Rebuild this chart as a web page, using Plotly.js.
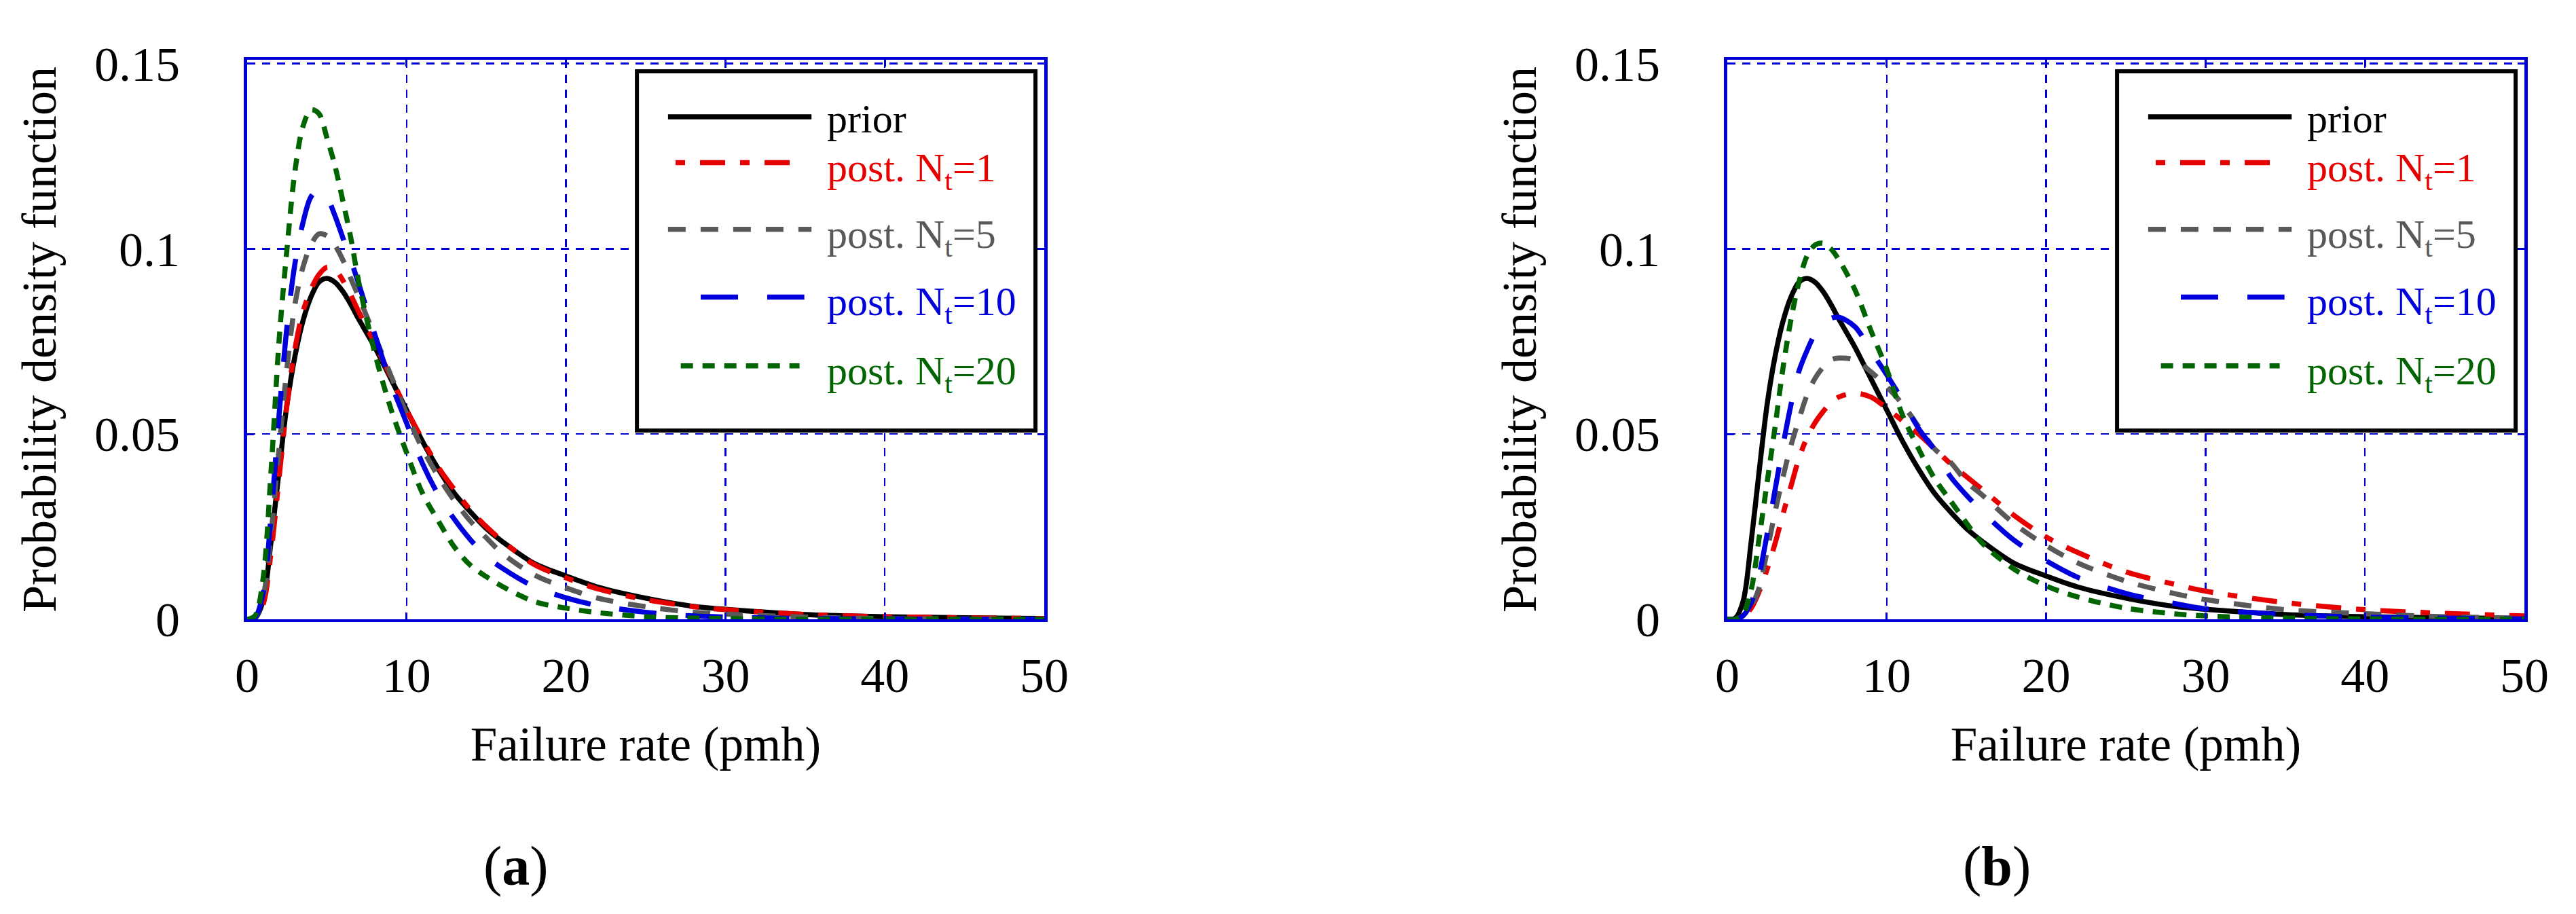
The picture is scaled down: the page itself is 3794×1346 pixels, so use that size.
<!DOCTYPE html>
<html>
<head>
<meta charset="utf-8">
<script src="https://cdn.plot.ly/plotly-3.0.1.min.js"></script>
<style>html, body {margin:0; padding:0; background:#fff;}</style>
</head>
<body>
<div id="chart" style="width:3794px;height:1346px"></div>
<script>
// failure rate grid (pmh), shared by every curve
const failureRate = [0, 0.5, 1, 1.5, 2, 2.5, 3, 3.5, 4, 4.5, 5, 5.5, 6, 6.5, 7, 8, 9, 10,
                     11, 12, 13, 14, 15, 16, 18, 20, 22, 25, 28, 30, 35, 40, 45, 50];

// prior pdf (same in both panels)
const priorPdf = [0, 0.0003, 0.005, 0.021, 0.040, 0.058, 0.071, 0.0805, 0.087, 0.091, 0.092, 0.091,
                  0.0885, 0.085, 0.081, 0.0735, 0.065, 0.0565, 0.048, 0.0405, 0.034, 0.029, 0.0245,
                  0.021, 0.0151, 0.0117, 0.0087, 0.0057, 0.0035, 0.0027, 0.0013, 0.0007, 0.0004, 0.0002];

// panel (a) posteriors
const postA1 = [0, 0.0002, 0.004, 0.018, 0.038, 0.058, 0.073, 0.083, 0.089, 0.093, 0.095, 0.0945,
                0.0915, 0.0875, 0.083, 0.0745, 0.0655, 0.0565, 0.0485, 0.041, 0.035, 0.0295, 0.025,
                0.0212, 0.0148, 0.0112, 0.0082, 0.0053, 0.0034, 0.0026, 0.0013, 0.0007, 0.0004, 0.0002];
const postA5 = [0, 0.0004, 0.006, 0.023, 0.046, 0.068, 0.085, 0.095, 0.101, 0.104, 0.1035, 0.101,
                0.097, 0.092, 0.087, 0.0765, 0.066, 0.0555, 0.046, 0.0385, 0.032, 0.0265, 0.022,
                0.0178, 0.012, 0.0085, 0.0057, 0.0034, 0.0019, 0.0014, 0.0006, 0.0002, 0.0001, 0];
const postA10 = [0, 0.0005, 0.007, 0.028, 0.055, 0.079, 0.096, 0.107, 0.114, 0.116, 0.114, 0.109,
                 0.103, 0.097, 0.0905, 0.077, 0.064, 0.053, 0.042, 0.0335, 0.027, 0.0215, 0.017,
                 0.0138, 0.0088, 0.0058, 0.0037, 0.0019, 0.0009, 0.0006, 0.0002, 0.0001, 0, 0];
const postA20 = [0, 0.001, 0.011, 0.040, 0.075, 0.100, 0.121, 0.133, 0.1375, 0.1365, 0.130, 0.1225,
                 0.113, 0.103, 0.091, 0.072, 0.057, 0.045, 0.034, 0.0265, 0.0195, 0.0146, 0.0115,
                 0.0089, 0.0048, 0.003, 0.0018, 0.0007, 0.0003, 0.0002, 0, 0, 0, 0];

// panel (b) posteriors
const postB1 = [0, 0, 0.0008, 0.003, 0.0075, 0.0135, 0.0205, 0.0285, 0.036, 0.0435, 0.049, 0.053,
                0.056, 0.0585, 0.060, 0.061, 0.060, 0.057, 0.0535, 0.050, 0.046, 0.042, 0.0385,
                0.035, 0.028, 0.0222, 0.018, 0.0128, 0.0095, 0.0076, 0.0045, 0.0026, 0.0016, 0.0009];
const postB5 = [0, 0, 0.001, 0.0035, 0.0085, 0.0185, 0.029, 0.0385, 0.047, 0.054, 0.0605, 0.065,
                0.068, 0.070, 0.0705, 0.070, 0.0668, 0.0628, 0.058, 0.052, 0.046, 0.0424, 0.0371,
                0.0335, 0.0258, 0.0199, 0.0152, 0.0103, 0.007, 0.0053, 0.0026, 0.0015, 0.0007, 0.0003];
const postB10 = [0, 0, 0.001, 0.0045, 0.012, 0.023, 0.035, 0.047, 0.058, 0.067, 0.0725, 0.077,
                 0.0795, 0.0812, 0.0815, 0.079, 0.0725, 0.066, 0.059, 0.0515, 0.0457, 0.0385, 0.0335,
                 0.029, 0.0213, 0.0158, 0.0113, 0.007, 0.0043, 0.0028, 0.0013, 0.0006, 0.0003, 0.0001];
const postB20 = [0, 0, 0.0015, 0.008, 0.022, 0.037, 0.052, 0.068, 0.081, 0.091, 0.098, 0.101,
                 0.1015, 0.100, 0.097, 0.089, 0.078, 0.0675, 0.055, 0.046, 0.038, 0.032, 0.026,
                 0.0205, 0.0135, 0.009, 0.006, 0.003, 0.0015, 0.0009, 0.0003, 0.0001, 0, 0];

const seriesNames = ["prior", "post. N<sub>t</sub>=1", "post. N<sub>t</sub>=5",
                     "post. N<sub>t</sub>=10", "post. N<sub>t</sub>=20"];
const xTickVals = [0, 10, 20, 30, 40, 50];
const yTickVals = [0, 0.05, 0.1, 0.15];
const yTickText = ["0", "0.05", "0.1", "0.15"];
const panelLabels = ["(<b>a</b>)", "(<b>b</b>)"];

const FONT = "Liberation Serif, Times New Roman, serif";
const AXIS_BLUE = "#0000d4";
const COLORS = ["#000000", "#e60000", "#595959", "#0000dc", "#006400"];
const DASHES = ["solid", "14px,22px,37px,22px", "26px,22px", "55px,43px", "18px,14px"];
// legend sample extents, fraction of the subplot width (the samples are clipped like the original)
const SAMPLE_X = [[0.528, 0.708], [0.5375, 0.683], [0.528, 0.708], [0.569, 0.699], [0.544, 0.693]];
const ROW_Y = [0.898, 0.816, 0.697, 0.576, 0.453];

const panels = [
    {xa: "x", ya: "y", series: [priorPdf, postA1, postA5, postA10, postA20]},
    {xa: "x2", ya: "y2", series: [priorPdf, postB1, postB5, postB10, postB20]},
];

const traces = [];
panels.forEach(p => {
    p.series.forEach((ys, i) => {
        traces.push({
            x: failureRate,
            y: ys,
            xaxis: p.xa,
            yaxis: p.ya,
            type: "scatter",
            mode: "lines",
            name: seriesNames[i],
            showlegend: false,
            line: {color: COLORS[i], width: 7.5, dash: DASHES[i], shape: "spline", smoothing: 0.9},
            hoverinfo: "skip"
        });
    });
});

function xAxis(domain, anchor) {
    return {
        domain: domain, anchor: anchor, range: [0, 50],
        tickvals: xTickVals, ticktext: xTickVals.map(String),
        showline: true, linecolor: AXIS_BLUE, linewidth: 4.5, mirror: "ticks",
        ticks: "inside", ticklen: 10, tickwidth: 3, tickcolor: AXIS_BLUE,
        showgrid: true, gridcolor: AXIS_BLUE, gridwidth: 2.5, griddash: "12px,10px",
        zeroline: false, fixedrange: true,
        tickfont: {family: FONT, size: 72, color: "#000"},
        ticklabelstandoff: 16,
        title: {text: "Failure rate (pmh)", font: {family: FONT, size: 71, color: "#000"}, standoff: 38}
    };
}

function yAxis(anchor) {
    return {
        domain: [0.32244, 0.93462], anchor: anchor, range: [0, 0.151],
        tickvals: yTickVals, ticktext: yTickText,
        showline: true, linecolor: AXIS_BLUE, linewidth: 4.5, mirror: "ticks",
        ticks: "inside", ticklen: 10, tickwidth: 3, tickcolor: AXIS_BLUE,
        showgrid: true, gridcolor: AXIS_BLUE, gridwidth: 2.5, griddash: "12px,10px",
        zeroline: false, fixedrange: true,
        tickfont: {family: FONT, size: 72, color: "#000"},
        ticklabelstandoff: 80,
        title: {text: "Probability density function", font: {family: FONT, size: 72, color: "#000"}, standoff: 34}
    };
}

// hand-made legend box inside each panel
const shapes = [];
const annotations = [];
panels.forEach(p => {
    const xr = p.xa + " domain", yr = p.ya + " domain";
    shapes.push({type: "rect", xref: xr, yref: yr, x0: 0.489, x1: 0.989, y0: 0.3374, y1: 0.9794,
                 fillcolor: "#ffffff", line: {color: "#000", width: 6}, layer: "above"});
    seriesNames.forEach((name, i) => {
        shapes.push({type: "line", xref: xr, yref: yr,
                     x0: SAMPLE_X[i][0], x1: SAMPLE_X[i][1], y0: ROW_Y[i], y1: ROW_Y[i],
                     line: {color: COLORS[i], width: 7.5, dash: DASHES[i]}, layer: "above"});
        annotations.push({xref: xr, yref: yr, x: 0.7257, y: ROW_Y[i] - (i === 0 ? 0.004 : 0.014),
                          xanchor: "left", yanchor: "middle", showarrow: false, text: name,
                          font: {family: FONT, size: 60, color: COLORS[i]}});
    });
});
panelLabels.forEach((t, k) => {
    annotations.push({xref: "paper", yref: "paper", x: k === 0 ? 0.2003 : 0.7752, y: 0.0527,
                      xanchor: "center", yanchor: "middle", showarrow: false, text: t,
                      font: {family: FONT, size: 82, color: "#000"}});
});

const layout = {
    width: 3794, height: 1346,
    margin: {l: 0, r: 0, t: 0, b: 0},
    paper_bgcolor: "#fff", plot_bgcolor: "#fff",
    font: {family: FONT, color: "#000"},
    showlegend: false,
    xaxis: xAxis([0.09594, 0.40538], "y"),
    yaxis: yAxis("x"),
    xaxis2: xAxis([0.67053, 0.97997], "y2"),
    yaxis2: yAxis("x2"),
    shapes: shapes,
    annotations: annotations
};

Plotly.newPlot("chart", traces, layout, {staticPlot: true});
</script>
</body>
</html>
